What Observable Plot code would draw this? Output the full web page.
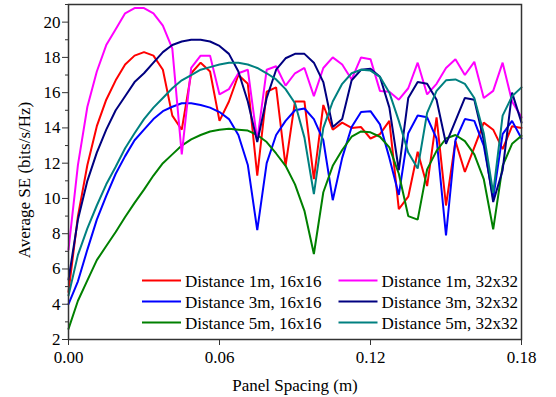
<!DOCTYPE html>
<html>
<head>
<meta charset="utf-8">
<script src="https://cdn.jsdelivr.net/npm/d3@7"></script>
<script src="https://cdn.jsdelivr.net/npm/@observablehq/plot@0.6"></script>
<style>
  html, body { margin: 0; padding: 0; background: white; }
  #chart { width: 556px; height: 397px; }
</style>
</head>
<body>
<div id="chart"></div>
<script>
// Panel spacing samples (m)
const spacing = [0, 0.00375, 0.0075, 0.01125, 0.015, 0.01875, 0.0225, 0.02625, 0.03, 0.03375,
  0.0375, 0.04125, 0.045, 0.04875, 0.0525, 0.05625, 0.06, 0.06375, 0.0675, 0.07125,
  0.075, 0.07875, 0.0825, 0.08625, 0.09, 0.09375, 0.0975, 0.10125, 0.105, 0.10875,
  0.1125, 0.11625, 0.12, 0.12375, 0.1275, 0.13125, 0.135, 0.13875, 0.1425, 0.14625,
  0.15, 0.15375, 0.1575, 0.16125, 0.165, 0.16875, 0.1725, 0.17625, 0.18];

const d1_16 = [4.7, 9.0, 11.9, 14.1, 15.6, 16.7, 17.6, 18.1, 18.3, 18.1,
  17.3, 14.7, 13.9, 17.1, 17.7, 17.2, 14.4, 15.5, 17.0, 16.5,
  11.3, 16.05, 16.3, 11.85, 15.5, 15.5, 11.1, 15.3, 13.9, 14.3,
  14.0, 14.05, 13.4, 13.65, 14.4, 9.4, 10.1, 12.65, 10.7, 14.6,
  9.6, 13.25, 11.5, 12.9, 14.3, 13.9, 12.8, 14.1, 14.0];
const d3_16 = [4.0, 5.3, 7.1, 8.8, 10.15, 11.4, 12.4, 13.3, 13.9, 14.5,
  14.95, 15.2, 15.4, 15.4, 15.3, 15.15, 14.9, 14.5, 13.6, 11.9,
  8.2, 12.0, 13.6, 14.4, 15.0, 15.1, 14.5, 13.3, 9.9, 12.3,
  14.05, 14.9, 14.95, 14.2, 12.3, 10.2, 13.7, 14.7, 14.6, 13.4,
  7.9, 13.3, 14.5, 14.4, 13.0, 10.0, 13.65, 14.4, 13.4];
const d5_16 = [2.6, 4.2, 5.35, 6.5, 7.3, 8.1, 8.95, 9.75, 10.5, 11.3,
  12.0, 12.5, 13.0, 13.35, 13.6, 13.8, 13.9, 13.95, 13.9, 13.85,
  13.6, 13.2, 12.55, 11.85, 10.8, 9.3, 6.85, 10.35, 11.85, 12.75,
  13.5, 13.8, 13.75, 13.5, 12.9, 11.4, 9.0, 8.8, 11.65, 12.7,
  13.4, 13.6, 13.25, 12.5, 11.1, 8.25, 11.85, 13.1, 13.55];
const d1_32 = [7.1, 11.9, 15.2, 17.2, 18.7, 19.6, 20.5, 20.8, 20.8, 20.5,
  19.8, 18.5, 12.5, 17.4, 18.1, 18.1, 15.9, 16.2, 17.1, 17.3,
  13.3, 17.3, 17.5, 16.4, 17.1, 17.4, 15.8, 17.4, 18.0, 17.6,
  16.75, 18.0, 17.9, 16.1, 16.05, 15.6, 16.25, 17.7, 15.9, 16.5,
  17.4, 17.9, 17.0, 17.75, 15.7, 16.1, 17.7, 15.5, 14.6];
const d3_32 = [5.4, 8.8, 11.0, 12.6, 13.9, 15.0, 15.8, 16.6, 17.1, 17.7,
  18.3, 18.7, 18.9, 19.0, 19.0, 18.9, 18.65, 18.2, 17.2, 15.5,
  13.2, 15.7, 17.3, 17.95, 18.2, 18.2, 17.7, 16.6, 14.05, 14.5,
  16.7, 17.3, 17.35, 16.9, 15.15, 11.6, 15.7, 16.6, 16.5, 15.6,
  13.1, 14.4, 15.7, 15.6, 13.3, 9.8, 11.6, 16.0, 14.3];
const d5_32 = [4.5, 6.8, 8.3, 9.6, 10.8, 11.8, 12.85, 13.7, 14.5, 15.15,
  15.7, 16.25, 16.7, 17.0, 17.3, 17.45, 17.6, 17.7, 17.7, 17.6,
  17.4, 17.1, 16.75, 16.2, 15.4, 13.45, 10.25, 14.0, 15.5, 16.5,
  17.1, 17.3, 17.25, 16.9, 16.0, 14.4, 12.6, 11.7, 14.85, 16.1,
  16.7, 16.75, 16.5, 15.7, 13.7, 10.3, 14.7, 15.8, 16.3];

const seriesNames = ["Distance 1m, 16x16", "Distance 3m, 16x16", "Distance 5m, 16x16",
                     "Distance 1m, 32x32", "Distance 3m, 32x32", "Distance 5m, 32x32"];
const seriesValues = [d1_16, d3_16, d5_16, d1_32, d3_32, d5_32];
const seriesColors = ["#ff0000", "#0000ff", "#008000", "#ff00ff", "#000080", "#008080"];

const xTicks = [0, 0.06, 0.12, 0.18];
const yTicks = [2, 4, 6, 8, 10, 12, 14, 16, 18, 20];
const yMinorTicks = [3, 5, 7, 9, 11, 13, 15, 17, 19, 21];

const xTitle = "Panel Spacing (m)";
const yTitle = "Average SE (bits/s/Hz)";

const rows = [];
seriesNames.forEach((name, s) => {
  seriesValues[s].forEach((v, i) => rows.push({series: name, x: spacing[i], y: v}));
});

const FONT = "'Liberation Serif', 'Times New Roman', serif";
const AX = "#333";

const chart = Plot.plot({
  width: 556,
  height: 397,
  marginLeft: 68,
  marginRight: 35,
  marginTop: 4,
  marginBottom: 58,
  style: {fontFamily: FONT, fontSize: "17px", background: "white", color: "black", overflow: "visible"},
  x: {domain: [0, 0.18], label: null},
  y: {domain: [2, 21], label: null},
  color: {domain: seriesNames, range: seriesColors},
  marks: [
    Plot.axisY({ticks: yMinorTicks, tickSize: 3, tickFormat: () => "", label: null, stroke: AX}),
    Plot.axisY({ticks: yTicks, tickSize: 6, tickPadding: 2, tickFormat: d => String(d), label: null, stroke: AX, fill: "black"}),
    Plot.axisX({ticks: xTicks, tickSize: 6, tickPadding: 5, tickFormat: d3.format(".2f"), label: null, stroke: AX, fill: "black"}),
    Plot.line(rows, {x: "x", y: "y", z: "series", stroke: "series", strokeWidth: 2, strokeLinejoin: "miter"}),
    Plot.frame({stroke: AX, strokeWidth: 1.5}),
    Plot.text([xTitle], {text: d => d, frameAnchor: "bottom", textAnchor: "middle", lineAnchor: "middle", dy: 46, fill: "black", fontSize: 17}),
    Plot.text([yTitle], {text: d => d, frameAnchor: "left", textAnchor: "middle", lineAnchor: "middle", rotate: -90, dx: -44, dy: 8, fill: "black", fontSize: 17})
  ]
});

// Legend inside the plot area (two columns of three)
const legend = d3.select(chart).append("g")
  .attr("font-family", FONT).attr("font-size", 17).attr("text-anchor", "start");
const colX = [142, 338.5];
const rowY = [280.5, 301.5, 322.5];
seriesNames.forEach((name, i) => {
  const cx = colX[Math.floor(i / 3)];
  const cy = rowY[i % 3];
  legend.append("line")
    .attr("x1", cx).attr("x2", cx + 39)
    .attr("y1", cy).attr("y2", cy)
    .attr("stroke", seriesColors[i]).attr("stroke-width", 2);
  legend.append("text")
    .attr("x", cx + 43).attr("y", cy + 6)
    .attr("text-anchor", "start")
    .attr("fill", "black")
    .text(name);
});

document.getElementById("chart").appendChild(chart);
</script>
</body>
</html>
